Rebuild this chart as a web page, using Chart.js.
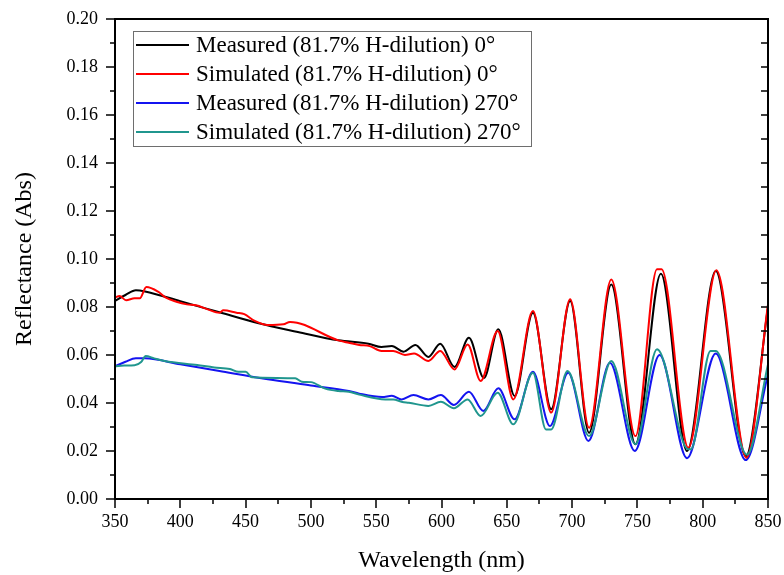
<!DOCTYPE html>
<html>
<head>
<meta charset="utf-8">
<script src="https://cdn.jsdelivr.net/npm/chart.js@4.4.1/dist/chart.umd.min.js"></script>
<style>
  html, body { margin: 0; padding: 0; background: #fff; }
</style>
</head>
<body>
<canvas id="myChart" width="784" height="575"></canvas>
<script>
// Measured 0 deg (black)
const wlMeas0 = [350, 358, 366, 373, 400, 430, 460, 490, 521, 544, 554, 562, 571, 580, 590, 599, 610, 621, 632.5, 643.5, 656, 670, 684, 698.5, 713, 730, 748.5, 768, 788, 810, 833, 850];
const meas0 = [0.0826, 0.085, 0.087, 0.0865, 0.0824, 0.0778, 0.0732, 0.0696, 0.0661, 0.0647, 0.0633, 0.0637, 0.0614, 0.0642, 0.0592, 0.0647, 0.055, 0.0672, 0.0504, 0.0707, 0.0429, 0.0776, 0.0374, 0.0825, 0.0276, 0.0894, 0.0228, 0.0939, 0.020, 0.095, 0.0178, 0.080];

// Simulated 0 deg (red)
const wlSim0 = [350, 353.5, 358.5, 365, 369, 374, 383, 389, 397, 405, 412, 421, 430, 433, 443, 449, 457, 467, 479, 484, 521, 529, 537, 545, 554, 563, 572, 579, 590, 599, 610, 620, 630, 643, 655, 670, 684, 698.5, 713, 730, 748.5, 765, 768.5, 789, 810.5, 833.5, 850];
const sim0 = [0.0839, 0.0846, 0.0828, 0.0836, 0.0836, 0.0883, 0.0864, 0.0839, 0.0822, 0.0811, 0.0807, 0.079, 0.0776, 0.0786, 0.0776, 0.077, 0.0742, 0.0725, 0.0728, 0.0738, 0.0661, 0.0651, 0.0642, 0.0637, 0.0617, 0.0617, 0.060, 0.0606, 0.0575, 0.0617, 0.054, 0.0644, 0.0492, 0.070, 0.0415, 0.0783, 0.036, 0.0832, 0.0297, 0.0915, 0.0262, 0.0957, 0.0957, 0.0214, 0.0953, 0.0172, 0.0811];

// Measured 270 deg (blue)
const wlMeas270 = [350, 358, 366, 373, 400, 430, 467, 500, 529, 537, 554.5, 562, 569.5, 578.5, 590, 599.5, 609.5, 621, 632, 643.5, 656, 670, 683, 697, 712.5, 729, 748, 767, 788, 810, 833, 850];
const meas270 = [0.0553, 0.0572, 0.0586, 0.0586, 0.0561, 0.0533, 0.0499, 0.0473, 0.045, 0.0439, 0.0425, 0.043, 0.0415, 0.0433, 0.0415, 0.0433, 0.0392, 0.0447, 0.0367, 0.0461, 0.0332, 0.053, 0.0304, 0.0526, 0.0242, 0.0568, 0.020, 0.060, 0.017, 0.0606, 0.0162, 0.052];

// Simulated 270 deg (teal)
const wlSim270 = [350, 357, 365, 370, 373.5, 380, 388, 413, 426, 438, 444.5, 450, 455, 488, 493, 500, 511, 521, 529, 537, 557, 563, 570, 575, 590, 599.5, 609.5, 620, 630, 643, 655, 670, 680, 684, 696.5, 713, 730, 748.5, 765, 789, 791, 806, 810, 834, 850];
const sim270 = [0.0553, 0.0556, 0.0557, 0.0571, 0.0596, 0.0586, 0.0575, 0.0558, 0.0548, 0.0542, 0.053, 0.053, 0.0507, 0.0503, 0.0489, 0.0487, 0.046, 0.045, 0.0447, 0.0435, 0.0415, 0.0415, 0.0404, 0.0401, 0.0388, 0.0405, 0.0378, 0.0415, 0.0346, 0.0443, 0.0311, 0.0526, 0.029, 0.029, 0.0533, 0.0262, 0.0575, 0.0228, 0.0624, 0.0207, 0.0207, 0.0617, 0.0617, 0.0185, 0.056];

const labels = [
  "Measured (81.7% H-dilution) 0°",
  "Simulated (81.7% H-dilution) 0°",
  "Measured (81.7% H-dilution) 270°",
  "Simulated (81.7% H-dilution) 270°"
];
const colors = ["#000000", "#ff0000", "#1414f0", "#20968e"];

const serif = "'Liberation Serif', 'Times New Roman', serif";

function toPoints(xs, ys) {
  return xs.map((x, i) => ({ x: x, y: ys[i] }));
}

function makeSet(i, xs, ys, order) {
  return {
    label: labels[i],
    data: toPoints(xs, ys),
    borderColor: colors[i],
    backgroundColor: colors[i],
    borderWidth: 2,
    pointRadius: 0,
    fill: false,
    cubicInterpolationMode: "monotone",
    order: order
  };
}

// frame and tick marks round the plot
const frameTicks = {
  id: "frameTicks",
  afterDatasetsDraw(chart) {
    const { ctx, chartArea: a, scales } = chart;
    const xs = scales.x, ys = scales.y;
    ctx.save();
    ctx.strokeStyle = "#000";
    ctx.lineWidth = 2;
    ctx.strokeRect(a.left, a.top, a.right - a.left, a.bottom - a.top);
    ctx.lineWidth = 1.5;
    ctx.beginPath();
    for (let k = 0; k <= 20; k++) {
      const y = Math.round(ys.getPixelForValue(k / 100));
      const len = k % 2 === 0 ? 9 : 5;
      ctx.moveTo(a.left, y);
      ctx.lineTo(a.left - len, y);
      ctx.moveTo(a.right, y);
      ctx.lineTo(a.right - 7, y);
    }
    for (let w = 350; w <= 850; w += 25) {
      const x = Math.round(xs.getPixelForValue(w));
      const len = w % 50 === 0 ? 9 : 5;
      ctx.moveTo(x, a.bottom);
      ctx.lineTo(x, a.bottom + len);
    }
    ctx.stroke();
    ctx.restore();
  }
};

// legend box in the upper left of the plot
const boxLegend = {
  id: "boxLegend",
  afterDraw(chart) {
    const { ctx } = chart;
    const bx = 133, by = 31, bw = 398, bh = 115;
    ctx.save();
    ctx.fillStyle = "#fff";
    ctx.fillRect(bx, by, bw, bh);
    ctx.strokeStyle = "#6e6e6e";
    ctx.lineWidth = 1;
    ctx.strokeRect(bx + 0.5, by + 0.5, bw, bh);
    ctx.font = "23px " + serif;
    ctx.textBaseline = "middle";
    ctx.textAlign = "left";
    chart.data.datasets.forEach((ds, i) => {
      const y = 45 + i * 29;
      ctx.strokeStyle = ds.borderColor;
      ctx.lineWidth = 2;
      ctx.beginPath();
      ctx.moveTo(136, y);
      ctx.lineTo(189, y);
      ctx.stroke();
      ctx.fillStyle = "#000";
      ctx.fillText(ds.label, 196, y + 1);
    });
    ctx.restore();
  }
};

new Chart(document.getElementById("myChart"), {
  type: "line",
  data: {
    datasets: [
      makeSet(0, wlMeas0, meas0, 4),
      makeSet(1, wlSim0, sim0, 2),
      makeSet(2, wlMeas270, meas270, 3),
      makeSet(3, wlSim270, sim270, 1)
    ]
  },
  options: {
    responsive: false,
    animation: false,
    layout: { padding: { left: 0, right: 16, top: 19, bottom: 0 } },
    plugins: {
      legend: { display: false },
      tooltip: { enabled: false }
    },
    scales: {
      x: {
        type: "linear",
        min: 350,
        max: 850,
        grid: { display: false, drawTicks: false },
        border: { display: false },
        ticks: {
          stepSize: 50,
          padding: 12,
          color: "#000",
          maxRotation: 0,
          font: { family: serif, size: 18 }
        },
        title: {
          display: true,
          text: "Wavelength (nm)",
          color: "#000",
          font: { family: serif, size: 24 },
          padding: { top: 8, bottom: 0 }
        },
        afterFit(scale) {
          scale.height = 76;
          scale.paddingLeft = 0;
          scale.paddingRight = 0;
        }
      },
      y: {
        min: 0,
        max: 0.2,
        grid: { display: false, drawTicks: false },
        border: { display: false },
        ticks: {
          stepSize: 0.02,
          padding: 17,
          color: "#000",
          font: { family: serif, size: 18 },
          callback: (v) => v.toFixed(2)
        },
        title: {
          display: true,
          text: "Reflectance (Abs)",
          color: "#000",
          font: { family: serif, size: 24 },
          padding: { top: 10, bottom: 0 }
        },
        afterFit(scale) {
          scale.width = 115;
          scale.paddingTop = 0;
          scale.paddingBottom = 0;
        }
      }
    }
  },
  plugins: [frameTicks, boxLegend]
});
</script>
</body>
</html>
